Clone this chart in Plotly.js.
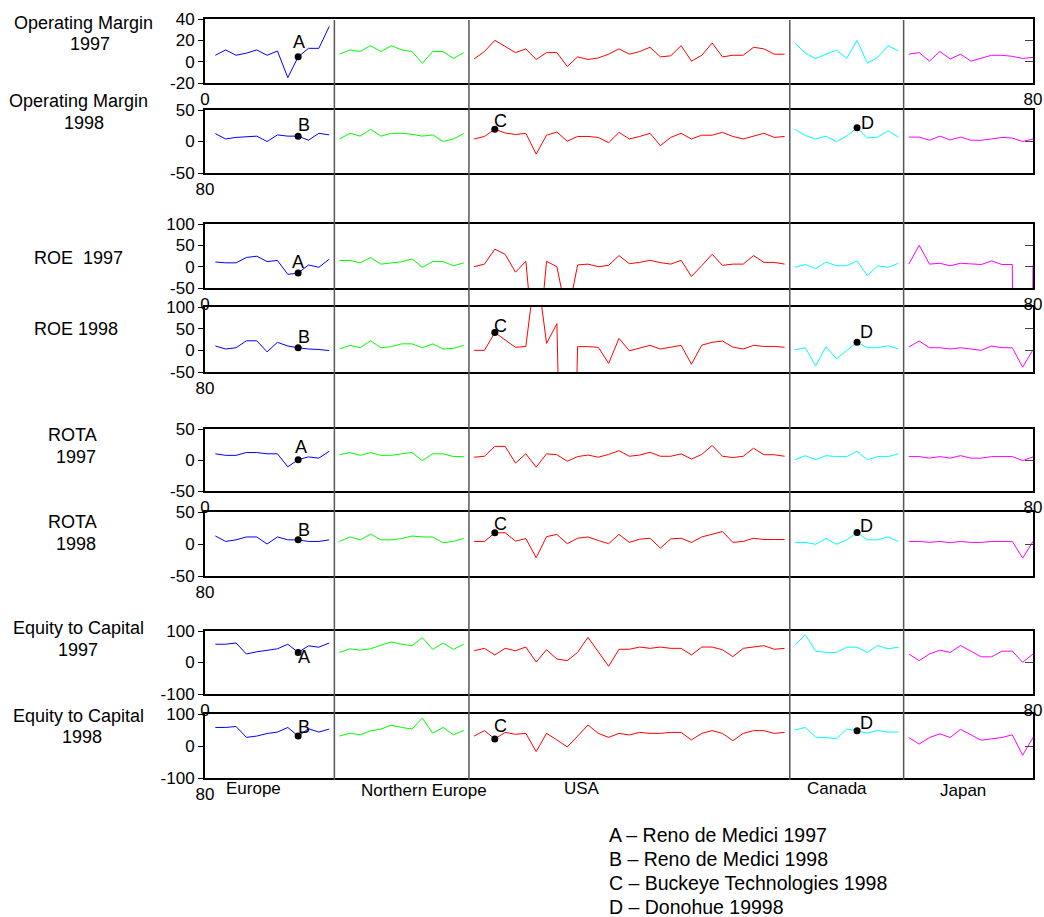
<!DOCTYPE html>
<html><head><meta charset="utf-8">
<script src="https://cdn.plot.ly/plotly-3.0.1.min.js"></script>
<style>html,body{margin:0;padding:0;background:#fff;}</style>
</head><body><div id="chart" style="width:1044px;height:917px;"></div>
<script>
// ---------------- DATA ----------------
const regionNames = ['Europe', 'Northern Europe', 'USA', 'Canada', 'Japan'];
const regionFirst = [1, 13, 26, 57, 68];
const regionLast  = [12, 25, 56, 67, 80];
const regionBoundaries = [12.5, 25.5, 56.5, 67.5];

const om97 = [6, 11, 6, 8, 11, 6, 10, -15, 4.5, 12.5, 12.5, 33,
  7, 11, 9.5, 15, 9.5, 15, 11, 9.5, -1.5, 9.5, 9.5, 3, 8.5,
  2.5, 9.5, 20, 14.5, 8.5, 12, 2, 8.5, 8.5, -4.5, 4.5, 2, 3.5, 7, 12, 7, 9.5, 13.5, 4.5, 5.5, 15, 0.5, 6, 17.5, 4.5, 6, 6, 13.5, 12, 7, 7,
  17.5, 8, 3, 7, 11, 3, 20, -1.5, 4, 15, 10,
  7, 8.5, 0.5, 9.5, 2.5, 7, 0.5, 3, 6, 6, 5, 3, 4];
const om98 = [12.5, 4, 6.5, 8, 8.5, 0, 10.5, 8.5, 8.5, 2, 13, 10.5,
  4, 13, 8.5, 19.5, 8.5, 13, 13, 11.5, 8.5, 10.5, 0, 4, 12.5,
  4, 8, 19.5, 13.5, 11, 13, -20, 10, 15, 0.5, 8, 8, 6.5, -2, 14.5, 4, 8, 13, -6.5, 6.5, 13, 4, 10, 10, 14.5, 8, 4, 8, 13, 6.5, 8,
  19.5, 9.5, 4, 8.5, 0, 8.5, 22, 5.5, 7, 17, 7,
  7, 7, 2, 8.5, 2.5, 7, 2, 2, 4, 6.5, 5.5, 0, 4];
const roe97 = [11, 9, 9, 21.5, 24.5, 12, 14.5, -18, -15, 4, -1.5, 17.5,
  14.5, 14.5, 9, 21.5, 6, 9, 11.5, 18, -1.5, 12, 12, 2, 9,
  0, 6, 41, 29, -13, 12.5, -250, 12.5, 0, -120, 4, 6, 0, 3, 26, 7, 10, 15, 9.5, 6, 15, -23, 2.5, 29, 3, 6, 6, 26, 10, 10, 6,
  -1.5, 5, -4.5, 11, 2, 2, 13.5, -21, 2, -1.5, 8,
  6, 50, 6, 8, 2, 8, 6.5, 5, 13.5, 5, 5, -3000, 3.5];
const roe98 = [10, 3, 6, 22, 22, -3.5, 18.5, 10, 6, 3, 2, -0.5,
  3, 11.5, 6, 22, 6, 8.5, 15, 15, 6, 15, 3, 4.5, 11.5,
  0, 0, 41, 25, 7, 9, 200, 16, 61.5, -1000, 8.5, 8.5, 7, -30, 27.5, -1, 5.5, 11.5, 3, 7, 11.5, -32, 12, 18.5, 21.5, 7.5, 3, 11.5, 9, 9, 7,
  1, 6, -36, 8.5, -19.5, -1, 18.5, 6, 6, 10.5, 3,
  7.5, 21.5, 6, 6, 3, 6, 3, 0, 10, 6, 6, -39, 1.5];
const rota97 = [10, 7.5, 7.5, 12, 12, 10, 10, -11, 0.5, 5, 3, 14,
  8.5, 12, 7.5, 12, 7.5, 7.5, 10, 12, -1, 10, 10, 5.5, 5.5,
  4.5, 6, 22, 22, -5, 10, -11.5, 10, 8.5, -2, 5.5, 8, 4.5, 9, 15, 6, 8, 12.5, 6, 6, 10, 1.5, 9, 23.5, 6, 4, 6, 19, 8.5, 8.5, 6,
  0.5, 7, 0.5, 7, 5.5, 5.5, 14, 0.5, 5.5, 5.5, 10,
  5.5, 5.5, 3, 5.5, 3, 7, 3, 3, 5.5, 5.5, 5.5, -1, 5];
const rota98 = [12.5, 4, 6.5, 11, 11, 0, 11, 6.5, 6.5, 4, 4, 6.5,
  4, 11, 6.5, 15.5, 6.5, 6.5, 8.5, 12.5, 11, 11, 2, 4, 9,
  4, 4, 17.5, 17.5, 4.5, 8.5, -21.5, 11.5, 15, 0.5, 9, 11, 5.5, 0.5, 15, 2.5, 7.5, 9, -6.5, 8, 9, 2.5, 11, 15, 19.5, 2.5, 4, 9, 7, 7, 7,
  2.5, 2.5, -0.5, 8.5, -0.5, 6.5, 18, 6.5, 6.5, 11, 4,
  4, 4, 2.5, 4, 2, 4, 2.5, 2.5, 4, 4, 4, -22, 4];
const eq97 = [58, 58, 62, 27, 34, 39, 43.5, 58, 32, 53, 48.5, 62,
  32, 43.5, 39, 43.5, 55, 65, 58, 53, 79, 41.5, 62, 41.5, 58,
  37.5, 45, 24, 45, 37.5, 49, 1.5, 40.5, 11, 6, 32, 80, 34, -12, 42, 42, 49, 45, 49, 45, 45, 24, 49, 49, 40.5, 18.5, 45, 49, 53.5, 42, 45,
  55, 88, 36, 32, 32, 48.5, 48.5, 32, 54, 43.5, 48.5,
  27, 6, 27, 39, 32, 54, 36, 18, 18, 36, 36, 0.5, 27];
const eq98 = [58, 58, 61, 27, 31, 39, 43.5, 58, 31, 54, 43.5, 53,
  31, 40, 35, 47.5, 53, 65, 58, 53, 87, 40, 58, 35, 48.5,
  31, 48, 22, 42.5, 36.5, 39.5, -17.5, 39.5, 19, -3, 31, 65.5, 39.5, 27, 39.5, 34.5, 42.5, 39.5, 39.5, 42.5, 42.5, 19, 39.5, 48, 39.5, 16.5, 39.5, 48, 48, 39.5, 42.5,
  50, 58, 27.5, 26.5, 22.5, 53, 47.5, 40, 48.5, 43.5, 43.5,
  26.5, 6, 26.5, 38, 26.5, 52, 35, 18, 22.5, 26.5, 35, -29, 26.5];

const panelTitles = [['Operating Margin', '1997'], ['Operating Margin', '1998'], ['ROE\u00a0 1997'], ['ROE 1998'],
  ['ROTA', '1997'], ['ROTA', '1998'], ['Equity to Capital', '1997'], ['Equity to Capital', '1998']];
const yTickVals = [[-20, 0, 20, 40], [-50, 0, 50], [-50, 0, 50, 100], [-50, 0, 50, 100],
  [-50, 0, 50], [-50, 0, 50], [-100, 0, 100], [-100, 0, 100]];
const xTickVals = [[0, 80], [0]];
const xTickText = [['0', '80'], ['80']];

const highlightLetters = ['A', 'B', 'C', 'D'];
const highlightNames = ['Reno de Medici 1997', 'Reno de Medici 1998', 'Buckeye Technologies 1998', 'Donohue 19998'];
const highlightCompany = [9, 9, 28, 63];
const highlightPanels = [[0, 2, 4, 6], [1, 3, 5, 7], [1, 3, 5, 7], [1, 3, 5, 7]];

// ---------------- STYLE / LAYOUT ----------------
const panels = [om97, om98, roe97, roe98, rota97, rota98, eq97, eq98];
const regionColors = ['#0000ff', '#00ff00', '#ff0000', '#00ffff', '#ff00ff'];
const FONT = '"Liberation Sans", Arial, sans-serif';
const W = 1044, H = 917;
const plotLeftPx = 205, plotRightPx = 1033;
const panelTopPx = [19, 110, 224, 307, 429, 512, 631, 714];
const panelBottomPx = [83, 173, 288, 372, 491, 576, 694, 778];
const titlePos = [[[83, 23], [90, 44]], [[78, 101], [84, 123]], [[78, 258]], [[76, 329]],
  [[72, 435], [76, 457]], [[72, 522], [76, 544]], [[78, 628], [78, 650]], [[78, 716], [82, 737]]];
const letterOffsets = [[[1, 15], [0, 11], [3, 13], [6, -5]],
  [[6, 11], [6, 11], [6, 10], [6, 9]],
  [[6, 8], [6, 7], [6, 9], [6, 13]],
  [[10, 5], [9, 10], [9, 6], [9, 8]]];
const regionLabelPos = [[253, 788], [424, 790], [582, 788], [837, 788], [963, 790]];
const legendPos = {x: 607, y0: 835, dy: 24};

const traces = [];
const layout = {
  width: W, height: H, margin: {l: 0, r: 0, t: 0, b: 0},
  paper_bgcolor: '#ffffff', plot_bgcolor: 'rgba(0,0,0,0)', showlegend: false,
  font: {family: FONT, size: 17, color: '#000'},
  annotations: [], shapes: []
};
const xid = n => n === 1 ? 'x' : 'x' + n;
const yid = n => n === 1 ? 'y' : 'y' + n;

panels.forEach((vals, p) => {
  const n = p + 1;
  regionNames.forEach((r, ri) => {
    const xs = [], ys = [];
    for (let c = regionFirst[ri]; c <= regionLast[ri]; c++) { xs.push(c); ys.push(vals[c - 1]); }
    traces.push({type: 'scatter', mode: 'lines', x: xs, y: ys, xaxis: xid(n), yaxis: yid(n),
      line: {color: regionColors[ri], width: 1}, hoverinfo: 'skip'});
  });
  const tv = yTickVals[p];
  const yr = [tv[0], tv[tv.length - 1]];
  const dom = [1 - panelBottomPx[p] / H, 1 - panelTopPx[p] / H];
  const odd = p % 2 === 0 ? 0 : 1;
  layout['xaxis' + (n === 1 ? '' : n)] = {
    domain: [plotLeftPx / W, plotRightPx / W], anchor: yid(n), range: [0, 80], fixedrange: true,
    showgrid: false, zeroline: false, showline: true, mirror: true, linecolor: '#000', linewidth: 2,
    ticks: '', tickvals: xTickVals[odd], ticktext: xTickText[odd], tickfont: {size: 17, family: FONT}
  };
  layout['yaxis' + (n === 1 ? '' : n)] = {
    domain: dom, anchor: xid(n), range: yr, fixedrange: true,
    showgrid: false, zeroline: false, showline: true, mirror: true, linecolor: '#000', linewidth: 2,
    ticks: 'outside', ticklen: 5, tickcolor: '#000', tickwidth: 1,
    tickvals: tv, ticktext: tv.map(String), tickfont: {size: 17, family: FONT}
  };
  layout['yaxis' + (n + 8)] = {
    overlaying: yid(n), anchor: xid(n), side: 'right', range: yr, fixedrange: true,
    showgrid: false, zeroline: false, showline: false,
    ticks: 'inside', ticklen: 8, tickcolor: '#444', tickwidth: 1,
    tickvals: tv, showticklabels: false
  };
  // empty trace so the right-hand tick axis is drawn
  traces.push({type: 'scatter', mode: 'lines', x: [], y: [], xaxis: xid(n), yaxis: 'y' + (n + 8), hoverinfo: 'skip'});
  panelTitles[p].forEach((t, li) => {
    layout.annotations.push({xref: 'paper', yref: 'paper', x: titlePos[p][li][0] / W, y: 1 - titlePos[p][li][1] / H,
      xanchor: 'center', yanchor: 'middle', text: t, showarrow: false, font: {size: 18, family: FONT}});
  });
});

highlightLetters.forEach((L, h) => {
  highlightPanels[h].forEach((p, k) => {
    const n = p + 1;
    const c = highlightCompany[h];
    const v = panels[p][c - 1];
    traces.push({type: 'scatter', mode: 'markers', x: [c], y: [v], xaxis: xid(n), yaxis: yid(n),
      marker: {color: '#000', size: 7}, hoverinfo: 'skip'});
    layout.annotations.push({xref: xid(n), yref: yid(n), x: c, y: v, text: L, showarrow: false,
      xanchor: 'center', yanchor: 'middle', xshift: letterOffsets[h][k][0], yshift: letterOffsets[h][k][1],
      font: {size: 18, family: FONT}});
  });
  layout.annotations.push({xref: 'paper', yref: 'paper', x: legendPos.x / W, y: 1 - (legendPos.y0 + h * legendPos.dy) / H,
    xanchor: 'left', yanchor: 'middle', text: L + ' \u2013 ' + highlightNames[h], showarrow: false,
    font: {size: 19.5, family: FONT}});
});

regionNames.forEach((r, ri) => {
  layout.annotations.push({xref: 'paper', yref: 'paper', x: regionLabelPos[ri][0] / W, y: 1 - regionLabelPos[ri][1] / H,
    xanchor: 'center', yanchor: 'middle', text: r, showarrow: false, font: {size: 17, family: FONT}});
});

regionBoundaries.forEach(b => {
  layout.shapes.push({type: 'line', xref: 'x', yref: 'paper', x0: b, x1: b,
    y0: 1 - 780 / H, y1: 1 - 20 / H, line: {color: '#555', width: 1.5}, layer: 'above'});
});

Plotly.newPlot('chart', traces, layout, {staticPlot: true, displayModeBar: false});
</script>
</body></html>
